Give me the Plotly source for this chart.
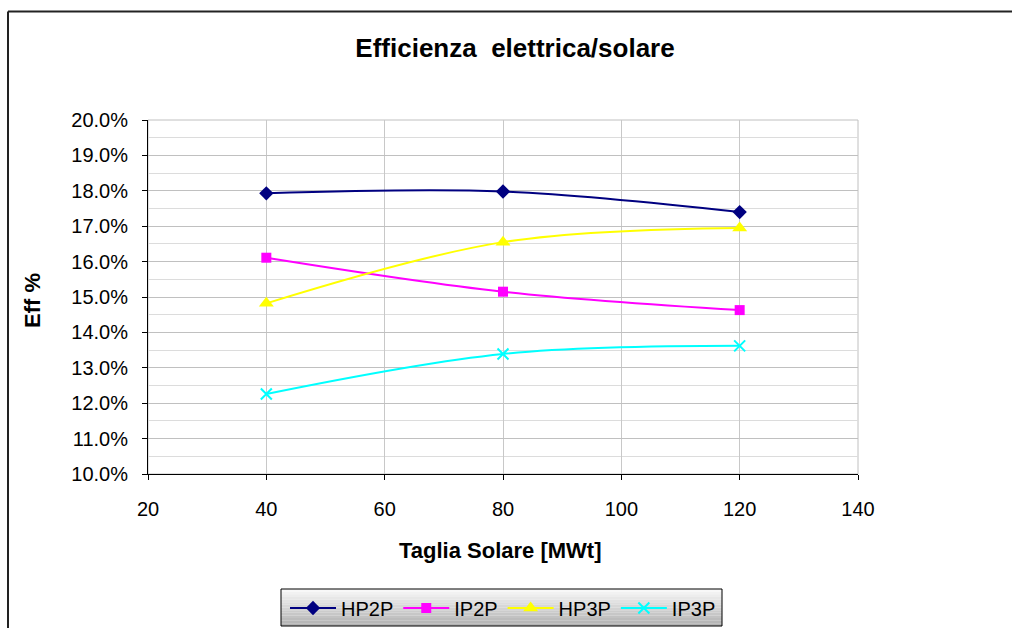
import plotly.graph_objects as go

# Taglia solare (MWt) and electrical/solar efficiency (%) per configuration
taglia = [40, 80, 120]
hp2p = [17.93, 17.98, 17.40]
ip2p = [16.11, 15.15, 14.63]
hp3p = [14.82, 16.55, 16.95]
ip3p = [12.26, 13.39, 13.62]

series_names = ["HP2P", "IP2P", "HP3P", "IP3P"]
series_values = [hp2p, ip2p, hp3p, ip3p]
colors = ["#000080", "#FF00FF", "#FFFF00", "#00FFFF"]
symbols = ["diamond", "square", "triangle-up", "x-thin"]
sizes = [11, 10, 13, 11]

W, H = 1012, 628
L, R, T, B = 148, 858, 120, 474  # plot area in pixels
pw, ph = R - L, B - T


def px(x):
    return (x - L) / pw


def py(y):
    return (B - y) / ph


fig = go.Figure()
for name, vals, c, s, sz in zip(series_names, series_values, colors, symbols, sizes):
    marker = dict(symbol=s, size=sz, color=c)
    if s == "x-thin":
        marker["line"] = dict(color=c, width=2)
    fig.add_trace(go.Scatter(
        x=taglia, y=vals, name=name, mode="lines+markers",
        line=dict(color=c, width=2, shape="spline", smoothing=1.0),
        marker=marker,
    ))

shapes = []
# outer chart frame (top and left edges)
shapes.append(dict(type="line", xref="paper", yref="paper",
                   x0=px(8), y0=py(11.5), x1=px(1020), y1=py(11.5),
                   line=dict(color="#222222", width=2)))
shapes.append(dict(type="line", xref="paper", yref="paper",
                   x0=px(8), y0=py(11.5), x1=px(8), y1=py(640),
                   line=dict(color="#222222", width=2)))
# plot area border
shapes.append(dict(type="rect", xref="paper", yref="paper",
                   x0=0, y0=0, x1=1, y1=1, layer="below",
                   line=dict(color="#c0c0c0", width=1)))
# legend box with vertical gray gradient
lx0, lx1, ly0, ly1 = 281, 722, 589, 626
n = 14
for i in range(n):
    t = i / (n - 1)
    g = int(248 - t * 70)
    shapes.append(dict(type="rect", xref="paper", yref="paper", layer="below",
                       x0=px(lx0), x1=px(lx1),
                       y0=py(ly0 + (ly1 - ly0) * i / n),
                       y1=py(ly0 + (ly1 - ly0) * (i + 1) / n),
                       fillcolor=f"rgb({g},{g},{g})", line=dict(width=0)))
shapes.append(dict(type="rect", xref="paper", yref="paper", layer="below",
                   x0=px(lx0), x1=px(lx1), y0=py(ly0), y1=py(ly1),
                   line=dict(color="#000000", width=1)))

fig.update_layout(
    width=W, height=H,
    margin=dict(l=L, r=W - R, t=T, b=H - B, autoexpand=False),
    paper_bgcolor="white", plot_bgcolor="white",
    font=dict(family="Liberation Sans, Arial, sans-serif", size=20, color="black"),
    title=dict(text="<b>Efficienza  elettrica/solare</b>", font=dict(size=26),
               x=515 / W, xanchor="center", xref="container",
               y=1 - 48 / H, yanchor="middle", yref="container"),
    showlegend=True,
    legend=dict(orientation="h", x=px(503), xanchor="center",
                y=py(608), yanchor="middle",
                bgcolor="rgba(0,0,0,0)", borderwidth=0,
                font=dict(size=20), itemwidth=46,
                traceorder="normal"),
    shapes=shapes,
    annotations=[
        dict(text="<b>Taglia Solare [MWt]</b>", xref="paper", yref="paper",
             x=px(500), y=py(550), showarrow=False, font=dict(size=22),
             xanchor="center", yanchor="middle"),
        dict(text="<b>Eff %</b>", xref="paper", yref="paper",
             x=px(32), y=py(301), showarrow=False, font=dict(size=22),
             textangle=-90, xanchor="center", yanchor="middle"),
    ],
)

fig.update_xaxes(range=[20, 140], dtick=20, tick0=20,
                 showgrid=True, gridcolor="#c8c8c8", gridwidth=1,
                 showline=True, linecolor="black", linewidth=1,
                 ticks="outside", ticklen=5, tickcolor="black",
                 ticklabelstandoff=12, zeroline=False)
fig.update_yaxes(range=[10, 20], dtick=1, tick0=10,
                 ticksuffix="%", tickformat=".1f",
                 showgrid=True, gridcolor="#c0c0c0", gridwidth=1,
                 minor=dict(dtick=0.5, showgrid=True, gridcolor="#dcdcdc"),
                 showline=True, linecolor="black", linewidth=1,
                 ticks="outside", ticklen=5, tickcolor="black",
                 ticklabelstandoff=10, zeroline=False)

fig.write_html("out.html")
